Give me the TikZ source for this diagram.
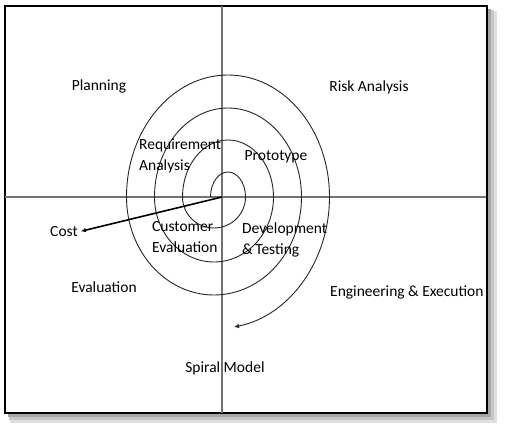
\documentclass[tikz,border=0pt]{standalone}
\usepackage{fontspec}
\setmainfont{Carlito}
\usetikzlibrary{arrows.meta}
\begin{document}
\begin{tikzpicture}[x=1pt,y=1pt,
  lbl/.style={inner sep=0pt,font=\fontsize{15.5}{21}\selectfont,text=black},
  axis/.style={draw=black!55,line width=1.1pt},
  spiralline/.style={draw=black!85,line width=0.9pt},
  costarrow/.style={draw=black,line width=1.6pt,-{Latex[length=5pt,width=4.5pt]}},
  endarrow/.style={-{Latex[length=5pt,width=4.5pt]}}
]
\useasboundingbox (0,0) rectangle (507,-428);
\fill[white] (0,0) rectangle (507,-428);
% shadow
\fill[black!12] (10,-11) rectangle (497,-423);
\fill[black!22] (9,-10) rectangle (494,-420);
\fill[black!35] (8,-9) rectangle (491,-417);
% frame
\draw[fill=white,line width=1.8pt] (5,-6) rectangle (487,-413);
% axes
\coordinate (c) at (222,-197);
\coordinate (top) at (222,-6);
\coordinate (bot) at (222,-413);
\coordinate (lft) at (5,-197);
\coordinate (rgt) at (486,-197);
\draw[axis] (top) -- (bot);
\draw[axis] (lft) -- (rgt);
% spiral
\coordinate (s0) at (210.5,-197);
\draw[spiralline,endarrow] (s0)
  arc[start angle=180,end angle=0,x radius=17.5,y radius=25]
  arc[start angle=360,end angle=180,x radius=31.5,y radius=31]
  arc[start angle=180,end angle=0,x radius=45.5,y radius=57]
  arc[start angle=360,end angle=180,x radius=59.5,y radius=65]
  arc[start angle=180,end angle=0,x radius=73.5,y radius=89]
  arc[start angle=360,end angle=180,x radius=87.5,y radius=98]
  arc[start angle=180,end angle=0,x radius=101.5,y radius=122]
  arc[start angle=360,end angle=280,x radius=115.5,y radius=132];
% labels
\node[lbl] (planning) at (99,-86) {Planning};
\node[lbl] (risk) at (369,-87) {Risk Analysis};
\node[lbl,anchor=west,align=left] (req) at (139,-155.5) {Requirement\\Analysis};
\node[lbl] (proto) at (276,-157) {Prototype};
\node[lbl,anchor=west,align=left] (cust) at (152,-237.5) {Customer\\Evaluation};
\node[lbl,anchor=west,align=left] (dev) at (242,-240) {Development\\\&\,Testing};
\node[lbl] (cost) at (64,-232) {Cost};
\node[lbl] (eval) at (104,-287) {Evaluation};
\node[lbl,anchor=west] (eng) at (330,-292) {Engineering \& Execution};
\node[lbl] (spiral) at (225,-368) {Spiral Model};
% cost arrow
\draw[costarrow,shorten >=3pt] (c) -- (cost.east);
\end{tikzpicture}
\end{document}
